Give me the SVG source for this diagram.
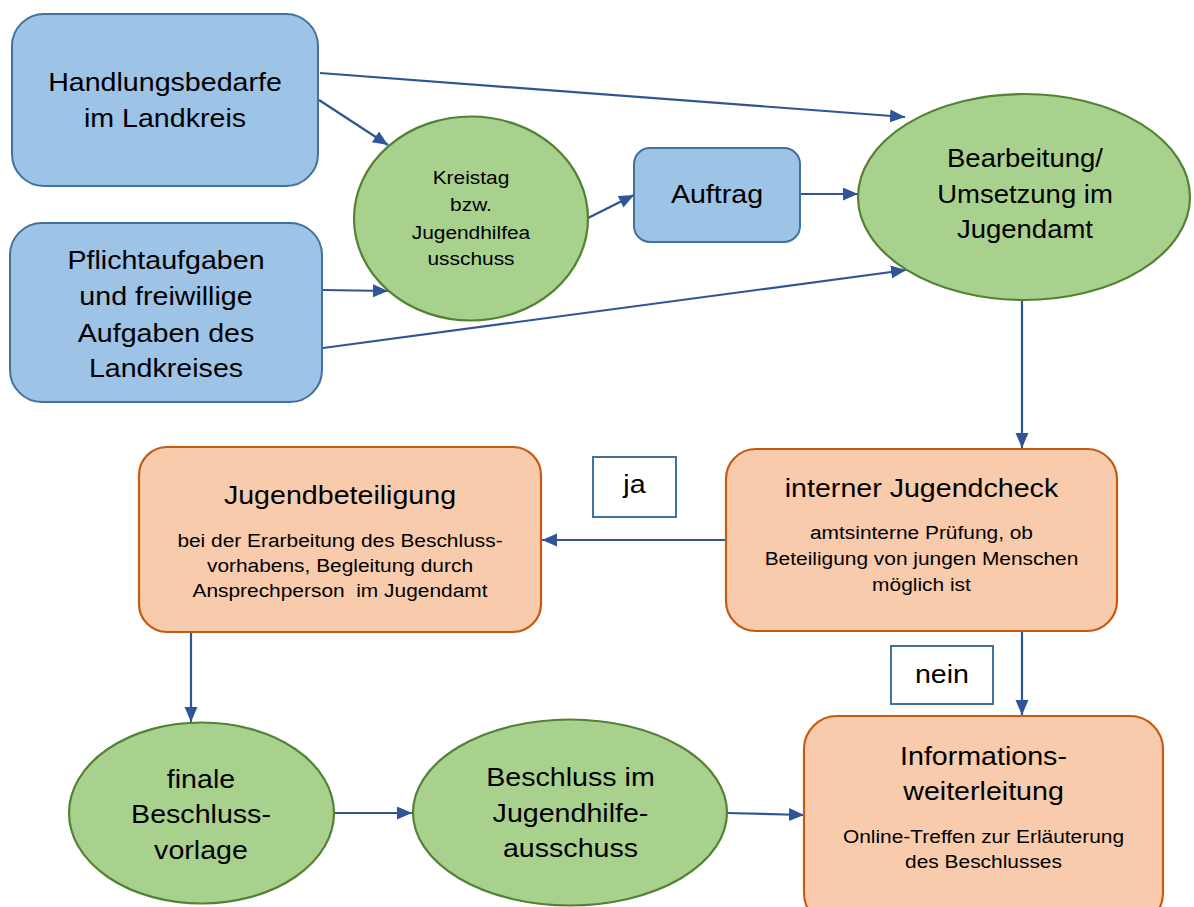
<svg xmlns="http://www.w3.org/2000/svg" width="1194" height="907" viewBox="0 0 1194 907">
  <style>
    .blue { fill: #9DC3E6; stroke: #41719C; stroke-width: 2; }
    .green { fill: #A9D18E; stroke: #538135; stroke-width: 2.2; }
    .orange { fill: #F8CBAD; stroke: #C55A11; stroke-width: 2.2; }
    .tag { fill: #FFFFFF; stroke: #41719C; stroke-width: 2; }
    .conn { fill: none; stroke: #2F5597; stroke-width: 2.2; marker-end: url(#arrow); }
    .line { fill: none; stroke: #2F5597; stroke-width: 2.2; }
    text { font-family: "Liberation Sans", Arial, sans-serif; fill: #000000; text-anchor: middle;
           transform-box: fill-box; transform-origin: center; transform: scaleX(1.1); }
    .big { font-size: 26px; }
    .mid { font-size: 25px; }
    .small { font-size: 19px; }
    .sub { font-size: 19px; }
  </style>
  <defs>
    <marker id="arrow" markerUnits="userSpaceOnUse" markerWidth="16" markerHeight="14" refX="15" refY="6.5" orient="auto">
      <path d="M0,0 L15,6.5 L0,13 Z" fill="#2F5597"/>
    </marker>
  </defs>

  <!-- connectors -->
  <g id="connectors">
    <line class="conn" x1="320" y1="73" x2="905" y2="117"/>
    <line class="conn" x1="319" y1="100" x2="388" y2="145"/>
    <line class="conn" x1="323" y1="290" x2="388" y2="291"/>
    <line class="conn" x1="323" y1="348" x2="906" y2="270"/>
    <line class="conn" x1="588" y1="218" x2="634" y2="195"/>
    <line class="conn" x1="801" y1="194" x2="858" y2="194"/>
    <line class="conn" x1="1022" y1="300" x2="1022" y2="448"/>
    <line class="conn" x1="726" y1="540" x2="542" y2="540"/>
    <line class="conn" x1="1022" y1="631" x2="1022" y2="715"/>
    <line class="conn" x1="191" y1="633" x2="191" y2="722"/>
    <line class="conn" x1="335" y1="813" x2="412" y2="813"/>
    <line class="conn" x1="727" y1="813" x2="804" y2="815"/>
  </g>

  <!-- inputs -->
  <g id="handlungsbedarfe">
    <rect class="blue" x="12" y="14" width="306" height="172" rx="32"/>
    <text class="big" x="165" y="91">Handlungsbedarfe</text>
    <text class="big" x="165" y="127">im Landkreis</text>
  </g>
  <g id="pflichtaufgaben">
    <rect class="blue" x="10" y="223" width="312" height="179" rx="32"/>
    <text class="big" x="166" y="269">Pflichtaufgaben</text>
    <text class="big" x="166" y="305">und freiwillige</text>
    <text class="big" x="166" y="342">Aufgaben des</text>
    <text class="big" x="166" y="377">Landkreises</text>
  </g>

  <g id="kreistag">
    <ellipse class="green" cx="471" cy="218.5" rx="117" ry="102"/>
    <text class="small" x="471" y="184">Kreistag</text>
    <text class="small" x="471" y="211">bzw.</text>
    <text class="small" x="471" y="239">Jugendhilfea</text>
    <text class="small" x="471" y="265">usschuss</text>
  </g>

  <g id="auftrag">
    <rect class="blue" x="634" y="148" width="166" height="94" rx="16"/>
    <text class="big" x="717" y="203">Auftrag</text>
  </g>

  <g id="bearbeitung">
    <ellipse class="green" cx="1024" cy="197" rx="166" ry="103"/>
    <text class="mid" x="1025" y="167">Bearbeitung/</text>
    <text class="mid" x="1025" y="203">Umsetzung im</text>
    <text class="mid" x="1025" y="238">Jugendamt</text>
  </g>

  <g id="jugendcheck">
    <rect class="orange" x="726" y="449" width="391" height="182" rx="30"/>
    <text class="big" x="921.5" y="497">interner Jugendcheck</text>
    <text class="sub" x="921.5" y="539">amtsinterne Prüfung, ob</text>
    <text class="sub" x="921.5" y="565">Beteiligung von jungen Menschen</text>
    <text class="sub" x="921.5" y="591">möglich ist</text>
  </g>

  <g id="label-ja">
    <rect class="tag" x="593" y="457" width="83" height="60"/>
    <text class="big" x="634.5" y="493">ja</text>
  </g>

  <g id="label-nein">
    <rect class="tag" x="891" y="646" width="102" height="58"/>
    <text class="big" x="942" y="683">nein</text>
  </g>

  <g id="jugendbeteiligung">
    <rect class="orange" x="139" y="447" width="402" height="185" rx="28"/>
    <text class="big" x="340" y="504">Jugendbeteiligung</text>
    <text class="sub" x="340" y="547">bei der Erarbeitung des Beschluss-</text>
    <text class="sub" x="340" y="572">vorhabens, Begleitung durch</text>
    <text class="sub" x="340" y="597" xml:space="preserve">Ansprechperson  im Jugendamt</text>
  </g>

  <g id="beschlussvorlage">
    <ellipse class="green" cx="201.5" cy="813" rx="132.5" ry="90.5"/>
    <text class="big" x="201" y="788">finale</text>
    <text class="big" x="201" y="823">Beschluss-</text>
    <text class="big" x="201" y="859">vorlage</text>
  </g>

  <g id="beschluss">
    <ellipse class="green" cx="570" cy="812.5" rx="157" ry="93"/>
    <text class="big" x="570.5" y="786">Beschluss im</text>
    <text class="big" x="570.5" y="822">Jugendhilfe-</text>
    <text class="big" x="570.5" y="857">ausschuss</text>
  </g>

  <g id="informationsweiterleitung">
    <rect class="orange" x="804" y="716" width="359" height="210" rx="33"/>
    <text class="big" x="983.5" y="765">Informations-</text>
    <text class="big" x="983.5" y="800">weiterleitung</text>
    <text class="sub" x="983.5" y="843">Online-Treffen zur Erläuterung</text>
    <text class="sub" x="983.5" y="868">des Beschlusses</text>
  </g>
</svg>
